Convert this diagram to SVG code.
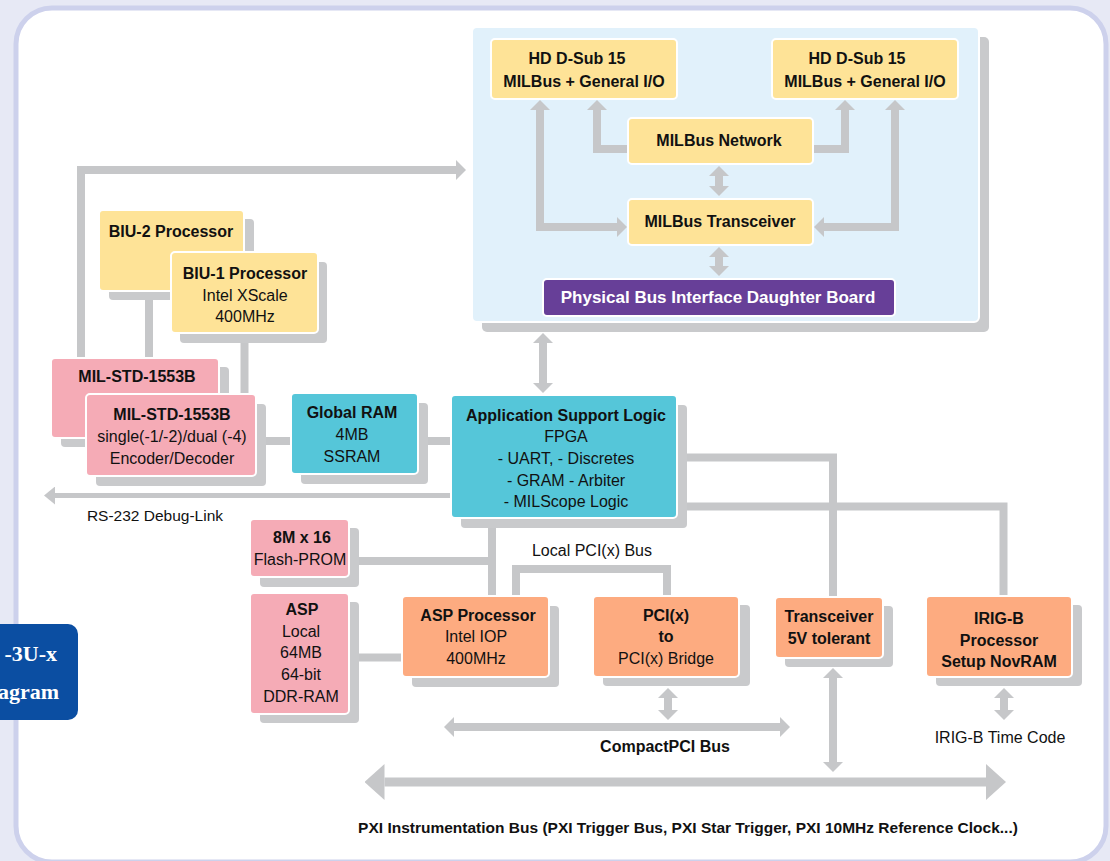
<svg xmlns="http://www.w3.org/2000/svg" width="1110" height="861" viewBox="0 0 1110 861">
<defs>
<style>
.sh{fill:#c9cacc}
.n{stroke:#fff;stroke-width:2}
.y{fill:#fee397}
.p{fill:#f5abb6}
.c{fill:#55c6d9}
.o{fill:#fdab80}
.ln{fill:none;stroke:#c6c7c9;stroke-width:8;stroke-linejoin:miter}
.t{font-family:"Liberation Sans",Arial,sans-serif;font-size:16px;fill:#111;text-anchor:middle}
.b{font-weight:bold}
</style>
<marker id="ah" markerUnits="userSpaceOnUse" markerWidth="10" markerHeight="20" refX="0" refY="10" orient="auto-start-reverse" viewBox="0 0 10 20"><path d="M0,0L10,10L0,20Z" fill="#c6c7c9"/></marker>
<marker id="ahL" markerUnits="userSpaceOnUse" markerWidth="20" markerHeight="36" refX="0" refY="18" orient="auto-start-reverse" viewBox="0 0 20 36"><path d="M0,0L20,18L0,36Z" fill="#c6c7c9"/></marker>
<marker id="ahS" markerUnits="userSpaceOnUse" markerWidth="11" markerHeight="18" refX="0" refY="9" orient="auto-start-reverse" viewBox="0 0 11 18"><path d="M0,0L11,9L0,18Z" fill="#c6c7c9"/></marker>
</defs>
<rect x="0" y="0" width="1110" height="861" fill="#e7e9f5"/>
<rect x="16" y="8" width="1090" height="854" rx="36" fill="#fff" stroke="#cdd1ec" stroke-width="5"/>

<g id="title">
<rect x="-10" y="624" width="88" height="96" rx="10" fill="#0b4ea2"/>
<text x="57" y="661" font-family="'Liberation Serif','Times New Roman',serif" font-size="22" font-weight="bold" fill="#fff" text-anchor="end">-3U-x</text>
<text x="59" y="699" font-family="'Liberation Serif','Times New Roman',serif" font-size="22" font-weight="bold" fill="#fff" text-anchor="end">agram</text>
</g>

<g id="daughter-board">
<rect class="sh" x="482" y="37" width="507" height="295" rx="5"/>
<rect x="472" y="27" width="507" height="295" rx="5" fill="#e1f1fb" stroke="#fff" stroke-width="2"/>
</g>

<g id="connectors">
<path class="ln" d="M540,110V227H617" marker-start="url(#ah)" marker-end="url(#ah)"/>
<path class="ln" d="M630,149H597V110" marker-end="url(#ah)"/>
<path class="ln" d="M811,149H845V110" marker-end="url(#ah)"/>
<path class="ln" d="M895,110V227H824" marker-start="url(#ah)" marker-end="url(#ah)"/>
<path class="ln" d="M719,176V186" marker-start="url(#ah)" marker-end="url(#ah)"/>
<path class="ln" d="M719,257V266" marker-start="url(#ah)" marker-end="url(#ah)"/>
<path class="ln" d="M543,343V383" marker-start="url(#ah)" marker-end="url(#ah)"/>
<path class="ln" d="M81,360V170H456" marker-end="url(#ah)"/>
<path class="ln" d="M149,298V360"/>
<path class="ln" d="M244.5,340V396"/>
<path class="ln" d="M260,441H293"/>
<path class="ln" d="M424,441H453"/>
<path class="ln" d="M453,495.5H55" style="stroke-width:5" marker-end="url(#ahS)"/>
<path class="ln" d="M355,561H492"/>
<path class="ln" d="M492,524V598"/>
<path class="ln" d="M355,657.5H404"/>
<path class="ln" d="M516,598V569H667V598"/>
<path class="ln" d="M683,457.5H833V599"/>
<path class="ln" d="M683,506.5H1003.5V598"/>
<path class="ln" d="M668,698V710" marker-start="url(#ah)" marker-end="url(#ah)"/>
<path class="ln" d="M454,727H780" marker-start="url(#ah)" marker-end="url(#ah)"/>
<path class="ln" d="M833,678V762" marker-start="url(#ah)" marker-end="url(#ah)"/>
<path class="ln" d="M1004,698V710" marker-start="url(#ah)" marker-end="url(#ah)"/>
<path class="ln" d="M384.5,782H986" style="stroke-width:9" marker-start="url(#ahL)" marker-end="url(#ahL)"/>
</g>

<g id="hd-left">
<rect class="n y" x="491" y="39" width="186" height="60" rx="4"/>
<text class="t b" x="577" y="64">HD D-Sub 15</text>
<text class="t b" x="584" y="87">MILBus + General I/O</text>
</g>
<g id="hd-right">
<rect class="n y" x="772" y="39" width="186" height="60" rx="4"/>
<text class="t b" x="857" y="64">HD D-Sub 15</text>
<text class="t b" x="865" y="87">MILBus + General I/O</text>
</g>
<g id="milbus-network">
<rect class="n y" x="628" y="118" width="185" height="46" rx="4"/>
<text class="t b" x="719" y="146">MILBus Network</text>
</g>
<g id="milbus-transceiver">
<rect class="n y" x="628" y="199" width="185" height="46" rx="4"/>
<text class="t b" x="720" y="227">MILBus Transceiver</text>
</g>
<g id="phys-bus">
<rect x="543" y="279" width="352" height="37" rx="4" fill="#673f98" stroke="#fff" stroke-width="2"/>
<text class="t b" x="718" y="303" style="fill:#fff;font-size:17px">Physical Bus Interface Daughter Board</text>
</g>

<g id="biu2">
<rect class="sh" x="109" y="219" width="145" height="81" rx="4"/>
<rect class="n y" x="99" y="210" width="145" height="81" rx="4"/>
<text class="t b" x="171" y="237">BIU-2 Processor</text>
</g>
<g id="biu1">
<rect class="sh" x="180" y="262" width="147" height="81" rx="4"/>
<rect class="n y" x="171" y="252" width="147" height="81" rx="4"/>
<text class="t b" x="245" y="279">BIU-1 Processor</text>
<text class="t" x="245" y="301">Intel XScale</text>
<text class="t" x="245" y="322">400MHz</text>
</g>
<g id="milstd-2">
<rect class="sh" x="61" y="367" width="168" height="80" rx="4"/>
<rect class="n p" x="51" y="358" width="168" height="80" rx="4"/>
<text class="t b" x="137" y="382">MIL-STD-1553B</text>
</g>
<g id="milstd-1">
<rect class="sh" x="96" y="404" width="170" height="82" rx="4"/>
<rect class="n p" x="86" y="394" width="170" height="82" rx="4"/>
<text class="t b" x="172" y="420">MIL-STD-1553B</text>
<text class="t" x="172" y="442">single(-1/-2)/dual (-4)</text>
<text class="t" x="172" y="464">Encoder/Decoder</text>
</g>
<g id="global-ram">
<rect class="sh" x="301" y="403" width="127" height="81" rx="4"/>
<rect class="n c" x="291" y="393" width="127" height="81" rx="4"/>
<text class="t b" x="352" y="418">Global RAM</text>
<text class="t" x="352" y="440">4MB</text>
<text class="t" x="352" y="462">SSRAM</text>
</g>
<g id="asl">
<rect class="sh" x="461" y="405" width="226" height="123" rx="4"/>
<rect class="n c" x="451" y="395" width="226" height="123" rx="4"/>
<text class="t b" x="566" y="421">Application Support Logic</text>
<text class="t" x="566" y="442">FPGA</text>
<text class="t" x="566" y="464">- UART, - Discretes</text>
<text class="t" x="566" y="486">- GRAM - Arbiter</text>
<text class="t" x="566" y="507">- MILScope Logic</text>
</g>
<g id="flash">
<rect class="sh" x="260" y="528" width="99" height="59" rx="4"/>
<rect class="n p" x="250" y="519" width="99" height="58" rx="4"/>
<text class="t b" x="302" y="543">8M x 16</text>
<text class="t" x="300" y="565">Flash-PROM</text>
</g>
<g id="asp-local">
<rect class="sh" x="260" y="602" width="99" height="121" rx="4"/>
<rect class="n p" x="250" y="593" width="99" height="121" rx="4"/>
<text class="t b" x="302" y="615">ASP</text>
<text class="t" x="301" y="637">Local</text>
<text class="t" x="301" y="658">64MB</text>
<text class="t" x="301" y="680">64-bit</text>
<text class="t" x="301" y="702">DDR-RAM</text>
</g>
<g id="asp-proc">
<rect class="sh" x="412" y="606" width="147" height="81" rx="4"/>
<rect class="n o" x="402" y="596" width="147" height="81" rx="4"/>
<text class="t b" x="478" y="621">ASP Processor</text>
<text class="t" x="476" y="642">Intel IOP</text>
<text class="t" x="476" y="664">400MHz</text>
</g>
<g id="pci-bridge">
<rect class="sh" x="603" y="605" width="147" height="81" rx="4"/>
<rect class="n o" x="593" y="596" width="146" height="81" rx="4"/>
<text class="t b" x="666" y="621">PCI(x)</text>
<text class="t b" x="666" y="642">to</text>
<text class="t" x="666" y="664">PCI(x) Bridge</text>
</g>
<g id="transceiver">
<rect class="sh" x="785" y="606" width="108" height="61" rx="4"/>
<rect class="n o" x="775" y="597" width="108" height="61" rx="4"/>
<text class="t b" x="829" y="622">Transceiver</text>
<text class="t b" x="829" y="644">5V tolerant</text>
</g>
<g id="irig">
<rect class="sh" x="936" y="605" width="146" height="81" rx="4"/>
<rect class="n o" x="926" y="596" width="146" height="81" rx="4"/>
<text class="t b" x="999" y="624">IRIG-B</text>
<text class="t b" x="999" y="646">Processor</text>
<text class="t b" x="999" y="667">Setup NovRAM</text>
</g>

<g id="labels">
<text class="t" x="155" y="521" style="font-size:15.5px">RS-232 Debug-Link</text>
<text class="t" x="592" y="556">Local PCI(x) Bus</text>
<text class="t b" x="665" y="752">CompactPCI Bus</text>
<text class="t" x="1000" y="743">IRIG-B Time Code</text>
<text class="t b" x="688" y="833" style="font-size:15.5px">PXI Instrumentation Bus (PXI Trigger Bus, PXI Star Trigger, PXI 10MHz Reference Clock...)</text>
</g>
</svg>
